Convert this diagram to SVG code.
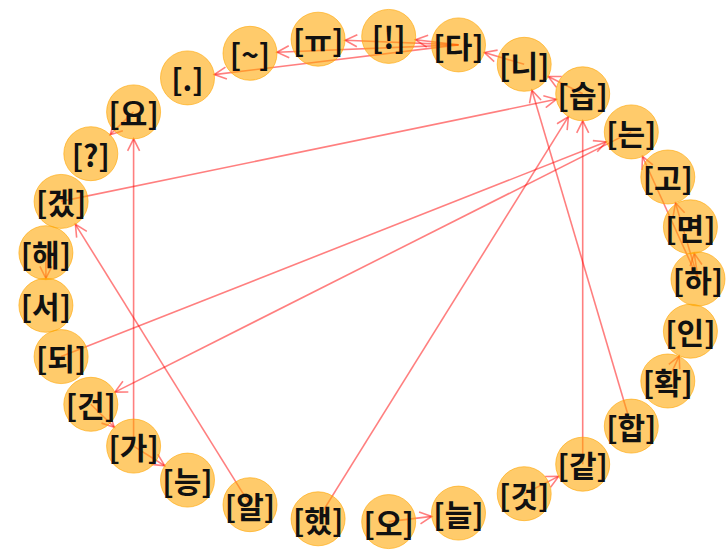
<svg xmlns="http://www.w3.org/2000/svg" width="727" height="552" viewBox="0 0 727 552">
<style>
.e{stroke:#ff0000;stroke-opacity:0.5;stroke-width:1.6;fill:none;marker-end:url(#ah)}
.n circle{fill:#ffa500;fill-opacity:0.58;stroke:#ffa500;stroke-opacity:0.6;stroke-width:1}
.n text{font-family:"Noto Sans CJK KR","Noto Sans",sans-serif;font-size:30px;font-weight:bold;fill:#111;text-anchor:middle;dominant-baseline:central}
</style>
<defs>
<marker id="ah" markerUnits="userSpaceOnUse" markerWidth="15" markerHeight="14" refX="13" refY="7" orient="auto">
<path d="M1,1 L13,7 L1,13" fill="none" stroke="#ff0000" stroke-opacity="0.5" stroke-width="1.6"/>
</marker>
</defs>
<rect width="727" height="552" fill="#fff"/>
<g id="edges">
<line class="e" x1="458.5" y1="44.9" x2="415.5" y2="39.7"/>
<line class="e" x1="458.5" y1="44.9" x2="345.1" y2="40.3"/>
<line class="e" x1="458.5" y1="44.9" x2="277.0" y2="52.2"/>
<line class="e" x1="458.5" y1="44.9" x2="214.3" y2="74.6"/>
<line class="e" x1="524.2" y1="64.3" x2="484.4" y2="52.5"/>
<line class="e" x1="582.7" y1="93.8" x2="548.3" y2="76.5"/>
<line class="e" x1="631.3" y1="426.1" x2="531.9" y2="90.2"/>
<line class="e" x1="61.1" y1="201.4" x2="556.3" y2="99.3"/>
<line class="e" x1="318.1" y1="518.8" x2="568.4" y2="116.7"/>
<line class="e" x1="582.7" y1="464.2" x2="582.7" y2="120.8"/>
<line class="e" x1="61.1" y1="356.6" x2="606.2" y2="141.8"/>
<line class="e" x1="698" y1="279" x2="642.5" y2="156.5"/>
<line class="e" x1="631.3" y1="131.9" x2="114.9" y2="392.1"/>
<line class="e" x1="698" y1="279" x2="675.5" y2="202.9"/>
<line class="e" x1="698" y1="279" x2="694.3" y2="253.5"/>
<line class="e" x1="667.8" y1="381.0" x2="679.2" y2="355.8"/>
<line class="e" x1="133.6" y1="111.9" x2="110.1" y2="134.8"/>
<line class="e" x1="45.9" y1="252.7" x2="45.9" y2="278.3"/>
<line class="e" x1="90.8" y1="404.3" x2="114.3" y2="427.2"/>
<line class="e" x1="133.6" y1="446.1" x2="164.7" y2="465.7"/>
<line class="e" x1="133.6" y1="446.1" x2="133.6" y2="138.9"/>
<line class="e" x1="250.0" y1="504.7" x2="75.4" y2="224.3"/>
<line class="e" x1="388.7" y1="521.6" x2="431.7" y2="516.4"/>
<line class="e" x1="524.2" y1="493.7" x2="558.6" y2="476.4"/>
</g>
<g id="n-ha" class="n"><circle cx="698" cy="279" r="27"/><text x="698" y="279">[하]</text></g>
<g id="n-in" class="n"><circle cx="690.4" cy="331.2" r="27"/><text x="690.4" y="331.2">[인]</text></g>
<g id="n-hwak" class="n"><circle cx="667.8" cy="381.0" r="27"/><text x="667.8" y="381.0">[확]</text></g>
<g id="n-hap" class="n"><circle cx="631.3" cy="426.1" r="27"/><text x="631.3" y="426.1">[합]</text></g>
<g id="n-gat" class="n"><circle cx="582.7" cy="464.2" r="27"/><text x="582.7" y="464.2">[같]</text></g>
<g id="n-geot" class="n"><circle cx="524.2" cy="493.7" r="27"/><text x="524.2" y="493.7">[것]</text></g>
<g id="n-neul" class="n"><circle cx="458.5" cy="513.1" r="27"/><text x="458.5" y="513.1">[늘]</text></g>
<g id="n-o" class="n"><circle cx="388.7" cy="521.6" r="27"/><text x="388.7" y="521.6">[오]</text></g>
<g id="n-haet" class="n"><circle cx="318.1" cy="518.8" r="27"/><text x="318.1" y="518.8">[했]</text></g>
<g id="n-al" class="n"><circle cx="250.0" cy="504.7" r="27"/><text x="250.0" y="504.7">[알]</text></g>
<g id="n-neung" class="n"><circle cx="187.5" cy="480.1" r="27"/><text x="187.5" y="480.1">[능]</text></g>
<g id="n-ga" class="n"><circle cx="133.6" cy="446.1" r="27"/><text x="133.6" y="446.1">[가]</text></g>
<g id="n-geon" class="n"><circle cx="90.8" cy="404.3" r="27"/><text x="90.8" y="404.3">[건]</text></g>
<g id="n-doe" class="n"><circle cx="61.1" cy="356.6" r="27"/><text x="61.1" y="356.6">[되]</text></g>
<g id="n-seo" class="n"><circle cx="45.9" cy="305.3" r="27"/><text x="45.9" y="305.3">[서]</text></g>
<g id="n-hae" class="n"><circle cx="45.9" cy="252.7" r="27"/><text x="45.9" y="252.7">[해]</text></g>
<g id="n-get" class="n"><circle cx="61.1" cy="201.4" r="27"/><text x="61.1" y="201.4">[겠]</text></g>
<g id="n-q" class="n"><circle cx="90.8" cy="153.7" r="27"/><text x="90.8" y="153.7">[?]</text></g>
<g id="n-yo" class="n"><circle cx="133.6" cy="111.9" r="27"/><text x="133.6" y="111.9">[요]</text></g>
<g id="n-dot" class="n"><circle cx="187.5" cy="77.9" r="27"/><text x="187.5" y="77.9">[.]</text></g>
<g id="n-tilde" class="n"><circle cx="250.0" cy="53.3" r="27"/><text x="250.0" y="53.3">[~]</text></g>
<g id="n-yu" class="n"><circle cx="318.1" cy="39.2" r="27"/><text x="318.1" y="39.2">[ㅠ]</text></g>
<g id="n-excl" class="n"><circle cx="388.7" cy="36.4" r="27"/><text x="388.7" y="36.4">[!]</text></g>
<g id="n-da" class="n"><circle cx="458.5" cy="44.9" r="27"/><text x="458.5" y="44.9">[다]</text></g>
<g id="n-ni" class="n"><circle cx="524.2" cy="64.3" r="27"/><text x="524.2" y="64.3">[니]</text></g>
<g id="n-seup" class="n"><circle cx="582.7" cy="93.8" r="27"/><text x="582.7" y="93.8">[습]</text></g>
<g id="n-neun" class="n"><circle cx="631.3" cy="131.9" r="27"/><text x="631.3" y="131.9">[는]</text></g>
<g id="n-go" class="n"><circle cx="667.8" cy="177.0" r="27"/><text x="667.8" y="177.0">[고]</text></g>
<g id="n-myeon" class="n"><circle cx="690.4" cy="226.8" r="27"/><text x="690.4" y="226.8">[면]</text></g>
</svg>
